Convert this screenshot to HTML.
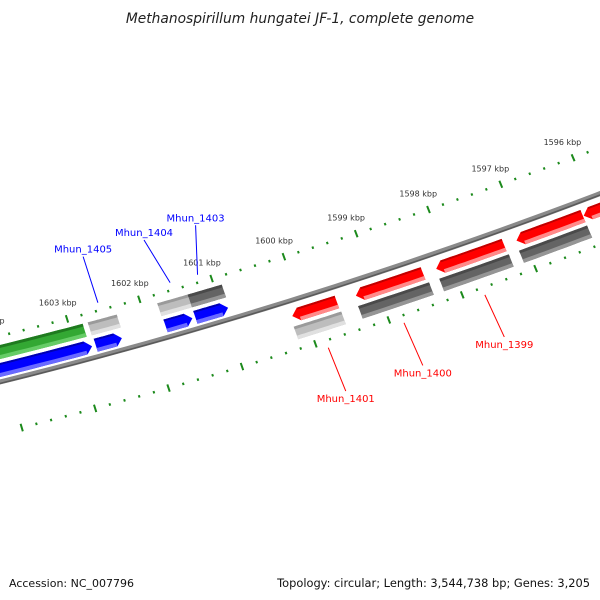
<!DOCTYPE html>
<html><head><meta charset="utf-8">
<style>
html,body{margin:0;padding:0;background:#fff;}
svg{display:block;font-family:"DejaVu Sans","Liberation Sans",sans-serif;}
</style></head>
<body>
<svg id="map" width="600" height="600" viewBox="0 0 600 600" xmlns="http://www.w3.org/2000/svg">
<rect width="600" height="600" fill="#fff"/>
<text x="300" y="23" text-anchor="middle" font-size="13.8" font-style="italic" fill="#222">Methanospirillum hungatei JF-1, complete genome</text>
<text x="9" y="587" font-size="11" fill="#111">Accession: NC_007796</text>
<text x="590" y="587" text-anchor="end" font-size="11.4" fill="#111">Topology: circular; Length: 3,544,738 bp; Genes: 3,205</text>
<g id="layer"></g>
</svg>
<script>
// ---- data ----
const tickMajorKbp = [1604, 1603, 1602, 1601, 1600, 1599, 1598, 1597, 1596, 1595];
const tickLabels = ["1604 kbp","1603 kbp","1602 kbp","1601 kbp","1600 kbp","1599 kbp","1598 kbp","1597 kbp","1596 kbp","1595 kbp"];
const featStart = [1604.2, 1601.78, 1601.37, 1602.74, 1604.2, 1601.79, 1601.37, 1602.75, 1600.16, 1599.29, 1598.19, 1597.09, 1596.17, 1600.19, 1599.31, 1598.20, 1597.11];
const featEnd   = [1602.79, 1601.41, 1600.92, 1602.38, 1602.82, 1601.37, 1600.90, 1602.35, 1599.55, 1598.37, 1597.26, 1596.18, 1594.9, 1599.54, 1598.34, 1597.25, 1596.18];
const featTrack = ["blue","blue","blue","blue","gray1","gray1","gray1","gray1","red","red","red","red","red","gray2","gray2","gray2","gray2"];
const featKind  = ["blue","blue","blue","blue","green","lgray","dgray","lgray","red","red","red","red","red","lgray","dgray","dgray","dgray"];
const labelNames = ["Mhun_1405","Mhun_1404","Mhun_1403","Mhun_1401","Mhun_1400","Mhun_1399"];
const labelLineKbp = [1602.54, 1601.54, 1601.16, 1599.86, 1598.83, 1597.73];
const labelTextKbp = [1602.54, 1601.69, 1600.97, 1599.84, 1598.80, 1597.70];
const labelStrand = ["fwd","fwd","fwd","rev","rev","rev"];

// ---- axis functions ----
const trackA = {ticksOuter:336, gray1:352, blue:370, backbone:382, red:398, gray2:416, ticksInner:433};
function P(kbp, a){
  const x0 = 67 + (1603 - kbp) * 72.3 * (1 + (a - 336) * 0.00016);
  const x = x0 + (a - 336) * 0.29;
  const y = a - 0.248 * x - 1.1e-4 * x * x;
  return [x, y];
}
const NS = "http://www.w3.org/2000/svg";
const layer = document.getElementById("layer");
function mk(tag, attrs, parent){
  const e = document.createElementNS(NS, tag);
  for (const k in attrs) e.setAttribute(k, attrs[k]);
  (parent || layer).appendChild(e);
  return e;
}
function fmt(pts){ return pts.map(p=>p[0].toFixed(1)+","+p[1].toFixed(1)).join(" "); }
function band(k1, k2, a1, a2){
  const pts = [];
  const n = 12;
  for (let i=0;i<=n;i++){ pts.push(P(k1+(k2-k1)*i/n, a1)); }
  for (let i=n;i>=0;i--){ pts.push(P(k1+(k2-k1)*i/n, a2)); }
  return fmt(pts);
}
function pathAlong(k1,k2,a){
  const pts=[]; const n=40;
  for(let i=0;i<=n;i++){pts.push(P(k1+(k2-k1)*i/n,a));}
  return "M"+pts.map(p=>p[0].toFixed(1)+","+p[1].toFixed(1)).join(" L");
}

// backbone
const bb = mk("path",{d:pathAlong(1606,1593,trackA.backbone),stroke:"#8a8a8a","stroke-width":5,fill:"none"});


const bb2 = mk("path",{d:pathAlong(1606,1593,trackA.backbone+1.5),stroke:"#5a5a5a","stroke-width":1.5,fill:"none"});



// ticks
function drawTicks(a, withLabels, name){
  for (let i=0;i<tickMajorKbp.length;i++){
    const k = tickMajorKbp[i];
    const p1=P(k,a-4), p2=P(k,a+4);
    const t = mk("line",{x1:p1[0],y1:p1[1],x2:p2[0],y2:p2[1],stroke:"#1c8a1c","stroke-width":2});
    
    
    for (let j=1;j<5;j++){
      const km = k - j*0.2;
      const q1=P(km,a-1.3), q2=P(km,a+1.3);
      const m = mk("line",{x1:q1[0],y1:q1[1],x2:q2[0],y2:q2[1],stroke:"#1c8a1c","stroke-width":2});
      
      
    }
    if (withLabels){
      const lp = P(k, a-18);
      const tx = mk("text",{x:lp[0]-4,y:lp[1]+3,"text-anchor":"middle","font-size":8,fill:"#333"});
      tx.textContent = tickLabels[i];
      
      
    }
  }
}
drawTicks(trackA.ticksOuter, true, 'outer');
drawTicks(trackA.ticksInner, false, 'inner');

// features
const palette = {
  blue:{main:"#0000ff",dark:"#0000b0",light:"#6a6aff",arrow:"right"},
  red:{main:"#ff0000",dark:"#c00000",light:"#ff8a8a",arrow:"left"},
  green:{main:"#33a833",dark:"#1f7a1f",light:"#66cc66",arrow:null},
  lgray:{main:"#bdbdbd",dark:"#9a9a9a",light:"#e0e0e0",arrow:null},
  dgray:{main:"#646464",dark:"#4a4a4a",light:"#959595",arrow:null}
};
const H = 7;
for (let i=0;i<featStart.length;i++){
  const a = trackA[featTrack[i]];
  const c = palette[featKind[i]];
  const g = mk("g",{});
  
  
  const ks=featStart[i], ke=featEnd[i];
  const head = 0.09;
  if (c.arrow==="right"){
    const b = ke+head;
    const tip = P(ke, a), u1=P(b,a-H);
    mk("polygon",{points:band(b,ks,a-H,a+H)+" "+fmt([tip,u1]),fill:c.main},g);
    mk("polygon",{points:band(b,ks,a+3,a+H),fill:c.light},g);
    mk("polygon",{points:band(b,ks,a-H,a-5),fill:c.dark},g);
  } else if (c.arrow==="left"){
    const b = ks-head;
    const tip=P(ks,a), u1=P(b,a-H);
    mk("polygon",{points:band(b,ke,a-H,a+H)+" "+fmt([tip,u1]),fill:c.main},g);
    mk("polygon",{points:band(b,ke,a+3,a+H),fill:c.light},g);
    mk("polygon",{points:band(b,ke,a-H,a-5),fill:c.dark},g);
  } else {
    mk("polygon",{points:band(ks,ke,a-H,a+H),fill:c.main},g);
    mk("polygon",{points:band(ks,ke,a+3,a+H),fill:c.light},g);
    mk("polygon",{points:band(ks,ke,a-H,a-4),fill:c.dark},g);
  }
}

// labels
for (let i=0;i<labelNames.length;i++){
  const fwd = labelStrand[i]==="fwd";
  const col = fwd ? "#0000ff" : "#ff0000";
  const p1 = fwd ? P(labelLineKbp[i],328) : P(labelLineKbp[i],441);
  const p2 = fwd ? P(labelTextKbp[i],278) : P(labelTextKbp[i],490);
  const ln = mk("line",{x1:p1[0],y1:p1[1],x2:p2[0],y2:p2[1],stroke:col,"stroke-width":1});
  
  
  const tx = mk("text",{x:p2[0],y:fwd? p2[1]-4 : p2[1]+11,"text-anchor":"middle","font-size":10,fill:col});
  tx.textContent = labelNames[i];
  
  
}
</script>
</body></html>
